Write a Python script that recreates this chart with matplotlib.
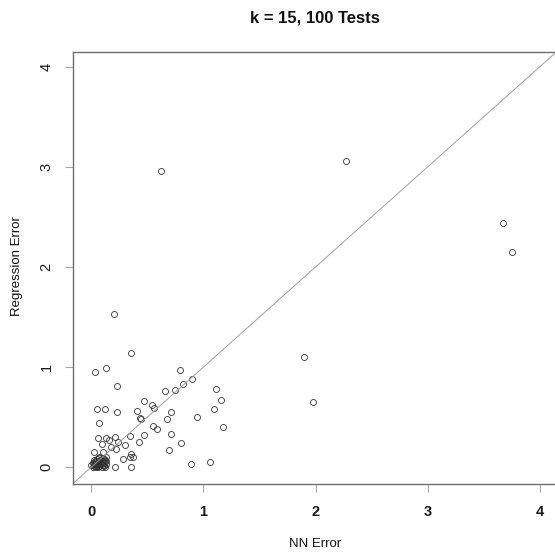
import matplotlib
matplotlib.use("Agg")
import matplotlib.pyplot as plt
import numpy as np

plt.rcParams['font.family'] = ['Liberation Sans', 'DejaVu Sans']

title = "k = 15, 100 Tests"
x_label = "NN Error"
y_label = "Regression Error"
tick_values = [0, 1, 2, 3, 4]
tick_labels = ["0", "1", "2", "3", "4"]

# Reference line y = a + b*x
line_intercept = 0.0
line_slope = 1.0

# NN error (x) and regression error (y) for the 100 tests
nn_error = [
    # outliers / upper points
    2.27, 0.62, 3.67, 3.75, 0.20,
    1.90, 1.98, 1.11, 1.16, 1.09, 1.17, 1.06,
    # mid cluster
    0.354, 0.031, 0.127, 0.787, 0.225, 0.90, 0.817, 0.743, 0.66, 0.47,
    0.537, 0.56, 0.049, 0.123, 0.228, 0.403, 0.707, 0.436, 0.44, 0.94,
    0.67, 0.067, 0.549, 0.585, 0.71, 0.47, 0.34, 0.061, 0.127, 0.207,
    0.156, 0.234, 0.427, 0.796, 0.302, 0.097, 0.171, 0.219, 0.695, 0.025,
    0.105, 0.353, 0.37, 0.278, 0.344, 0.07, 0.127, 0.213, 0.353, 0.888,
    # dense cluster near origin
    0.02, 0.03, 0.04, 0.05, 0.06, 0.07, 0.08, 0.09, 0.10, 0.11,
    0.12, 0.03, 0.05, 0.07, 0.09, 0.01, 0.02, 0.04, 0.06, 0.08,
    0.10, 0.11, 0.13, 0.12, 0.00, 0.01, 0.05, 0.07, 0.09, 0.04,
    0.06, 0.08, 0.10, 0.02, 0.03, 0.11, 0.13, 0.05,
]
reg_error = [
    3.06, 2.96, 2.44, 2.15, 1.53,
    1.10, 0.65, 0.78, 0.67, 0.58, 0.40, 0.05,
    1.137, 0.953, 0.987, 0.97, 0.813, 0.88, 0.833, 0.77, 0.763, 0.66,
    0.617, 0.587, 0.583, 0.577, 0.553, 0.563, 0.553, 0.493, 0.48, 0.497,
    0.48, 0.44, 0.41, 0.383, 0.333, 0.32, 0.313, 0.287, 0.287, 0.303,
    0.27, 0.253, 0.247, 0.243, 0.22, 0.23, 0.203, 0.183, 0.167, 0.15,
    0.15, 0.133, 0.10, 0.083, 0.097, 0.10, 0.097, 0.003, 0.003, 0.033,
    0.01, 0.03, 0.00, 0.02, 0.05, 0.01, 0.03, 0.06, 0.02, 0.04,
    0.07, 0.06, 0.08, 0.09, 0.00, 0.04, 0.07, 0.05, 0.03, 0.07,
    0.09, 0.01, 0.03, 0.00, 0.02, 0.00, 0.04, 0.06, 0.03, 0.02,
    0.00, 0.05, 0.06, 0.03, 0.01, 0.08, 0.06, 0.01,
]

W, H = 555, 552
fig = plt.figure(figsize=(W / 100, H / 100), dpi=100)
left, right, top, bottom = 73, 557, 52, 484
ax = fig.add_axes([left / W, 1 - bottom / H, (right - left) / W, (bottom - top) / H])

ax.set_xlim(-0.165, 4.156)
ax.set_ylim(-0.17, 4.15)

ax.plot(nn_error, reg_error, linestyle='none', marker='o', markersize=4.3,
        markerfacecolor='none', markeredgecolor='#303030', markeredgewidth=0.6)

xs = np.array(ax.get_xlim())
ax.plot(xs, line_intercept + line_slope * xs, color='#a0a0a0', linewidth=0.7)

for s in ax.spines.values():
    s.set_color('#6e6e6e')
    s.set_linewidth(1.0)
ax.spines['right'].set_visible(False)

ax.set_xticks(tick_values)
ax.set_xticklabels(tick_labels)
ax.set_yticks(tick_values)
ax.set_yticklabels(tick_labels, rotation=90, va='center')
ax.tick_params(axis='both', direction='out', length=6, width=0.8, color='#a8a8a8',
               labelcolor='#1a1a1a', labelsize=10.5)
ax.tick_params(axis='x', pad=9)
ax.tick_params(axis='y', pad=8)
for lab in ax.get_xticklabels():
    lab.set_fontweight('bold')

fig.text(315 / W, 1 - 18 / H, title, ha='center', va='center',
         fontsize=12, fontweight='bold', color='#111111')
fig.text(315 / W, 1 - 544 / H, x_label, ha='center', va='center',
         fontsize=9.5, color='#111111')
fig.text(17 / W, 1 - 266 / H, y_label, ha='center', va='center', rotation=90,
         fontsize=9.5, color='#111111')

fig.savefig("out.png", dpi=100)
